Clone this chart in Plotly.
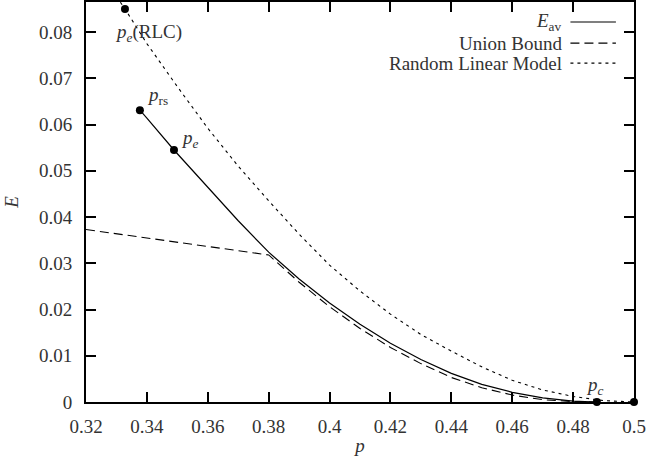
import plotly.graph_objects as go

# ---- data ----
p_av = [0.3377, 0.34, 0.3489, 0.36, 0.37, 0.38, 0.39, 0.40, 0.41, 0.42, 0.43,
        0.44, 0.45, 0.46, 0.47, 0.48, 0.485, 0.4878]
E_av = [0.0631, 0.0614, 0.0545, 0.0465, 0.0392, 0.0324, 0.0266, 0.0214, 0.0168,
        0.0127, 0.0092, 0.0062, 0.0038, 0.0021, 0.0009, 0.0002, 0.00003, 0.0]

p_ub = [0.32, 0.33, 0.34, 0.35, 0.36, 0.37, 0.38, 0.39, 0.40, 0.41, 0.42, 0.43,
        0.44, 0.45, 0.46, 0.47, 0.48, 0.4878]
E_ub = [0.0373, 0.0364, 0.0355, 0.0346, 0.0337, 0.0328, 0.0318, 0.0259, 0.0206,
        0.0159, 0.0118, 0.0083, 0.0053, 0.0031, 0.0015, 0.0005, 0.0001, 0.0]

p_rl = [0.33, 0.3328, 0.34, 0.35, 0.36, 0.37, 0.38, 0.39, 0.40, 0.41, 0.42, 0.43,
        0.44, 0.45, 0.46, 0.47, 0.48, 0.49, 0.5]
E_rl = [0.0877, 0.0850, 0.0775, 0.0682, 0.0592, 0.0510, 0.0435, 0.0363, 0.0296,
        0.0240, 0.0190, 0.0146, 0.0110, 0.0076, 0.0047, 0.0026, 0.0012, 0.0003, 0.0]

# special points
pt_p = [0.3328, 0.3377, 0.3489, 0.4878, 0.5]
pt_E = [0.0850, 0.0631, 0.0545, 0.0, 0.0]
pt_labels = ["<i>p</i><sub><i>e</i></sub>(RLC)", "<i>p</i><sub>rs</sub>",
             "<i>p</i><sub><i>e</i></sub>", "<i>p</i><sub><i>c</i></sub>", ""]
pt_shift = [(24, -24), (18, 14), (16, 11), (-2, 16), (0, 0)]

x_ticks = [0.32, 0.34, 0.36, 0.38, 0.40, 0.42, 0.44, 0.46, 0.48, 0.50]
x_ticktext = ["0.32", "0.34", "0.36", "0.38", "0.4", "0.42", "0.44", "0.46", "0.48", "0.5"]
y_ticks = [0, 0.01, 0.02, 0.03, 0.04, 0.05, 0.06, 0.07, 0.08]
y_ticktext = ["0", "0.01", "0.02", "0.03", "0.04", "0.05", "0.06", "0.07", "0.08"]

legend_names = ["<i>E</i><sub>av</sub>", "Union Bound", "Random Linear Model"]
legend_dash = ["solid", "9px,5px", "3px,4px"]

FONT = "Liberation Serif"
TXT = "#333333"

fig = go.Figure()
fig.add_trace(go.Scatter(x=p_av, y=E_av, mode="lines",
                         line=dict(color="black", width=1.2, dash=legend_dash[0]),
                         showlegend=False))
fig.add_trace(go.Scatter(x=p_ub, y=E_ub, mode="lines",
                         line=dict(color="black", width=1.1, dash=legend_dash[1]),
                         showlegend=False))
fig.add_trace(go.Scatter(x=p_rl, y=E_rl, mode="lines",
                         line=dict(color="black", width=1.1, dash=legend_dash[2]),
                         showlegend=False))
fig.add_trace(go.Scatter(x=pt_p, y=pt_E, mode="markers",
                         marker=dict(color="black", size=8),
                         cliponaxis=False, showlegend=False))

for xv, yv, lab, (dx, dy) in zip(pt_p, pt_E, pt_labels, pt_shift):
    if lab:
        fig.add_annotation(x=xv, y=yv, text=lab, showarrow=False,
                           xshift=dx, yshift=dy,
                           font=dict(family=FONT, size=19, color=TXT))

# legend drawn manually (text left, line sample right, as in the reference)
leg_y = [0.950, 0.897, 0.847]
for name, dash, ly in zip(legend_names, legend_dash, leg_y):
    fig.add_annotation(xref="paper", yref="paper", x=0.873, y=ly, text=name,
                       showarrow=False, xanchor="right", yanchor="middle",
                       font=dict(family=FONT, size=19, color=TXT))
    fig.add_shape(type="line", xref="paper", yref="paper",
                  x0=0.884, x1=0.967, y0=ly, y1=ly,
                  line=dict(color="black", width=1.2, dash=dash))

axis_common = dict(showline=True, linecolor="black", linewidth=2, mirror="ticks",
                   ticks="inside", ticklen=10, tickwidth=1.5, tickcolor="black",
                   showgrid=False, zeroline=False, automargin=False,
                   tickfont=dict(family=FONT, size=19, color=TXT))

fig.update_layout(
    width=646, height=456,
    margin=dict(l=86, r=12, t=2, b=54),
    paper_bgcolor="white", plot_bgcolor="white",
    xaxis=dict(range=[0.32, 0.5], tickvals=x_ticks, ticktext=x_ticktext,
               ticklabelstandoff=6,
               title=dict(text="<i>p</i>", standoff=6,
                          font=dict(family=FONT, size=19, color=TXT)),
               **axis_common),
    yaxis=dict(range=[0, 0.0865], tickvals=y_ticks, ticktext=y_ticktext,
               ticklabelstandoff=8,
               title=dict(text="<i>E</i>", standoff=15,
                          font=dict(family=FONT, size=19, color=TXT)),
               **axis_common),
)

fig.write_html("out.html", config={"displayModeBar": False},
               post_script="document.body.style.margin='0';document.body.style.overflow='hidden';")
